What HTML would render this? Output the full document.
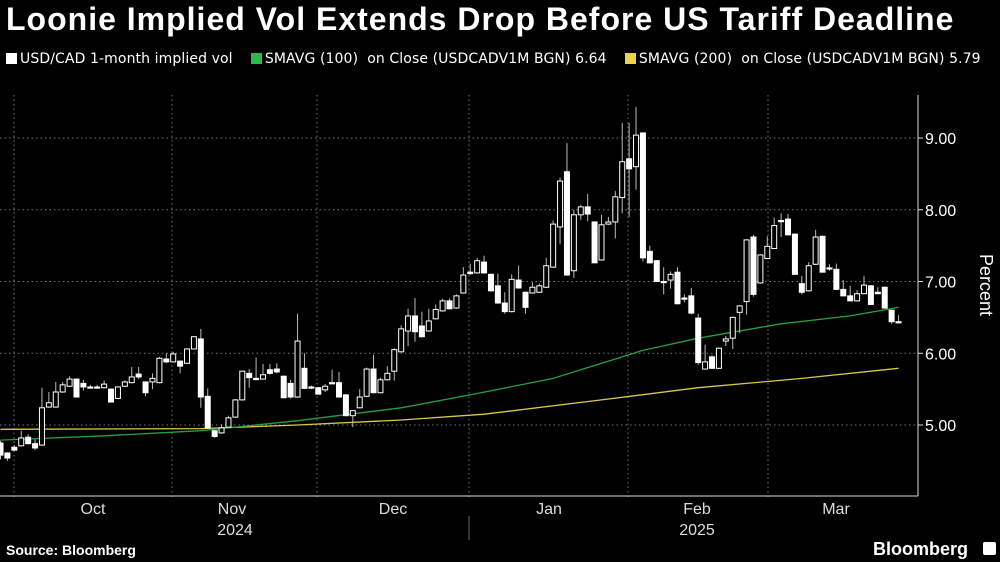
<!DOCTYPE html>
<html><head><meta charset="utf-8">
<style>
html,body{margin:0;padding:0;background:#000;}
body{width:1000px;height:562px;overflow:hidden;position:relative;font-family:"Liberation Sans",sans-serif;color:#fff;}
#title{position:absolute;left:6px;top:1px;font-size:32px;font-weight:bold;letter-spacing:1px;white-space:nowrap;}
#legend{position:absolute;left:6px;top:51px;font-size:14px;white-space:nowrap;color:#fff;font-family:"DejaVu Sans","Liberation Sans",sans-serif;letter-spacing:0.1px;}
.sw{display:inline-block;width:11px;height:11px;margin-right:3px;vertical-align:-1px;}
#source{position:absolute;left:6px;top:542px;font-size:14px;font-weight:bold;}
#logo{position:absolute;left:873px;top:539px;font-size:18px;font-weight:bold;}
#logo-icon{position:absolute;left:983px;top:542px;width:13px;height:13px;background:#fff;border-radius:2px;}
svg{position:absolute;left:0;top:0;}
</style></head><body>
<div id="title">Loonie Implied Vol Extends Drop Before US Tariff Deadline</div>
<div id="legend">
<span><span class="sw" style="background:#fff"></span>USD/CAD 1-month implied vol</span>&nbsp;&nbsp;&nbsp;
<span><span class="sw" style="background:#2db84a"></span>SMAVG (100)&nbsp; on Close (USDCADV1M BGN) 6.64</span>&nbsp;&nbsp;&nbsp;
<span><span class="sw" style="background:#e8d44d"></span>SMAVG (200)&nbsp; on Close (USDCADV1M BGN) 5.79</span>
</div>
<svg id="chart" width="1000" height="562"></svg>
<div id="source">Source: Bloomberg</div>
<div id="logo">Bloomberg</div>
<div id="logo-icon"></div>
<script>
const opens=[4.75,4.61,4.69,4.71,4.83,4.74,4.72,5.25,5.25,5.46,5.54,5.64,5.58,5.53,5.53,5.52,5.50,5.37,5.54,5.59,5.71,5.60,5.60,5.59,5.92,5.88,5.89,5.86,6.06,6.20,5.40,4.92,4.89,4.97,5.11,5.35,5.72,5.65,5.64,5.77,5.78,5.68,5.58,5.39,5.79,5.53,5.52,5.49,5.59,5.59,5.42,5.13,5.24,5.40,5.78,5.45,5.63,5.75,6.02,6.31,6.52,6.38,6.31,6.48,6.59,6.73,6.63,6.84,7.13,7.12,7.27,7.10,6.94,6.70,6.58,7.02,6.85,6.84,6.85,6.92,7.20,7.76,8.53,7.15,7.93,8.04,7.83,7.30,7.80,7.83,8.17,8.71,8.60,9.07,7.42,7.29,7.00,7.02,7.13,6.77,6.80,6.49,5.78,5.95,5.79,6.17,6.21,6.57,6.72,7.62,6.98,7.32,7.46,7.85,7.87,7.66,6.97,6.87,7.24,7.63,7.19,7.17,6.89,6.80,6.73,6.83,6.94,6.85,6.92,6.60,6.44];
const highs=[4.78,4.62,4.72,4.92,4.87,4.80,5.52,5.46,5.60,5.60,5.68,5.65,5.63,5.56,5.56,5.62,5.51,5.54,5.62,5.81,5.81,5.61,5.72,5.95,6.00,6.02,5.90,6.07,6.24,6.34,5.51,4.93,5.01,5.13,5.36,5.76,5.78,5.94,5.85,5.85,5.86,5.69,5.63,6.55,6.00,5.55,5.53,5.57,5.77,5.74,5.43,5.20,5.50,5.80,5.98,5.66,5.82,6.07,6.39,6.62,6.77,6.58,6.62,6.68,6.76,6.76,6.82,7.20,7.25,7.33,7.36,7.11,7.11,6.85,7.10,7.22,6.86,6.99,6.97,7.33,7.85,8.45,8.93,8.00,8.07,8.22,7.84,7.93,7.90,8.26,9.21,9.21,9.43,9.08,7.50,7.30,7.20,7.14,7.20,6.82,6.91,6.55,6.12,5.97,6.08,6.24,6.51,6.67,7.59,7.65,7.38,7.63,7.89,7.95,7.94,7.67,7.08,7.27,7.72,7.64,7.24,7.25,7.02,6.94,6.88,7.08,6.95,6.92,6.93,6.61,6.53];
const lows=[4.52,4.50,4.64,4.70,4.73,4.65,4.71,5.24,5.24,5.45,5.53,5.39,5.48,5.51,5.51,5.51,5.32,5.36,5.53,5.58,5.64,5.40,5.50,5.58,5.86,5.87,5.72,5.85,6.05,5.24,4.95,4.82,4.88,4.96,5.10,5.34,5.52,5.62,5.63,5.70,5.72,5.38,5.37,5.38,5.50,5.50,5.43,5.46,5.58,5.38,5.12,4.97,5.23,5.39,5.44,5.44,5.62,5.62,6.01,6.10,6.16,6.22,6.30,6.47,6.58,6.61,6.62,6.83,7.09,7.11,7.11,6.86,6.69,6.55,6.57,6.90,6.55,6.83,6.84,6.91,7.19,7.52,7.08,7.05,7.86,7.84,7.26,7.29,7.79,7.60,7.95,7.90,8.28,7.28,7.25,7.00,6.82,6.90,6.68,6.71,6.54,5.84,5.77,5.78,5.78,6.10,6.06,6.28,6.54,6.79,6.97,7.31,7.45,7.62,7.64,7.10,6.82,6.86,7.23,7.13,7.15,6.88,6.79,6.73,6.72,6.82,6.68,6.82,6.63,6.41,6.43];
const closes=[4.58,4.54,4.65,4.82,4.74,4.68,5.24,5.31,5.46,5.56,5.64,5.39,5.53,5.53,5.53,5.57,5.32,5.53,5.60,5.67,5.67,5.45,5.65,5.93,5.88,5.99,5.82,6.06,6.23,5.39,4.96,4.84,4.96,5.10,5.35,5.75,5.66,5.65,5.70,5.72,5.74,5.38,5.39,6.17,5.51,5.52,5.43,5.54,5.59,5.39,5.13,5.20,5.39,5.78,5.45,5.63,5.72,6.05,6.34,6.52,6.30,6.23,6.45,6.61,6.73,6.62,6.80,7.09,7.11,7.29,7.12,6.87,6.70,6.58,7.03,6.91,6.64,6.92,6.94,7.22,7.80,8.40,7.09,7.93,8.04,7.94,7.26,7.79,7.83,8.18,8.67,8.57,9.04,7.33,7.26,7.00,7.00,7.10,6.69,6.77,6.56,5.87,5.88,5.79,6.07,6.20,6.50,6.66,7.58,6.82,7.37,7.49,7.78,7.85,7.65,7.10,6.85,7.22,7.62,7.13,7.19,6.89,6.80,6.73,6.83,6.95,6.68,6.83,6.63,6.44,6.44];
const ma100Idx=[0,15,29,43,58,68,80,93,101,113,123,130];
const ma100Val=[4.79,4.85,4.92,5.06,5.24,5.42,5.65,6.04,6.21,6.41,6.52,6.64];
const ma200Idx=[0,29,43,58,70,87,101,116,130];
const ma200Val=[4.94,4.95,5.00,5.07,5.15,5.35,5.52,5.65,5.79];
const yTicks=[5,6,7,8,9];
const monthLabels=["Oct","Nov","Dec","Jan","Feb","Mar"];
const monthLabelX=[93,232,393,549,697,836];
const monthGridX=[14,172,317,469,628,768];

const NS="http://www.w3.org/2000/svg";
const svg=document.getElementById('chart');
const step=6.908, x0=0.5;
function xs(i){return x0+i*step;}
function ys(v){return 425-(v-5)*71.75;}
function mk(tag,attrs){const e=document.createElementNS(NS,tag);for(const k in attrs)e.setAttribute(k,attrs[k]);svg.appendChild(e);return e;}

yTicks.forEach(v=>{
  const g=mk('line',{x1:0,x2:915,y1:ys(v),y2:ys(v),stroke:'#777','stroke-width':1,'stroke-dasharray':'1.5,3'});
  
  
  const t=mk('line',{x1:918,x2:923,y1:ys(v),y2:ys(v),stroke:'#ddd','stroke-width':1});
  
  
  const l=mk('text',{x:925,y:ys(v)+6,fill:'#fff','font-size':16,'font-family':'Liberation Sans, sans-serif'});
  l.textContent=v.toFixed(2);
  
  
});
monthGridX.forEach(x=>{
  const g=mk('line',{x1:x,x2:x,y1:95,y2:500,stroke:'#777','stroke-width':1,'stroke-dasharray':'1.5,3'});
  
  
});
const ax=mk('line',{x1:0,x2:918,y1:496,y2:496,stroke:'#ddd','stroke-width':1});


const ay=mk('line',{x1:918,x2:918,y1:95,y2:496,stroke:'#ddd','stroke-width':1});


const ys1=mk('line',{x1:469,x2:469,y1:516,y2:540,stroke:'#666','stroke-width':1});


monthLabels.forEach((m,i)=>{
  const t=mk('text',{x:monthLabelX[i],y:514,fill:'#ddd','font-size':16,'text-anchor':'middle','font-family':'Liberation Sans, sans-serif'});
  t.textContent=m;
  
  
});
[["2024",235],["2025",697]].forEach(([y,x])=>{
  const t=mk('text',{x:x,y:535,fill:'#ddd','font-size':16,'text-anchor':'middle','font-family':'Liberation Sans, sans-serif'});
  t.textContent=y;
  
  
});
const yt=mk('text',{x:0,y:0,fill:'#fff','font-size':18,'text-anchor':'middle','transform':'translate(980,285) rotate(90)','font-family':'Liberation Sans, sans-serif'});
yt.textContent='Percent';



function line(idx,val,color,name){
  const d=idx.map((i,k)=>(k?'L':'M')+xs(i).toFixed(1)+','+ys(val[k]).toFixed(1)).join(' ');
  const p=mk('path',{d:d,fill:'none',stroke:color,'stroke-width':1.3});
  
  
}
line(ma200Idx,ma200Val,'#d9c94a','sma200-line');
line(ma100Idx,ma100Val,'#23a046','sma100-line');

opens.forEach((o,i)=>{
  const c=closes[i],x=xs(i);
  const w=mk('line',{x1:x,x2:x,y1:ys(highs[i]),y2:ys(lows[i]),stroke:'#bbb','stroke-width':1});
  
  
  const top=ys(Math.max(o,c)),bot=ys(Math.min(o,c));
  const h=Math.max(1.2,bot-top);
  const up=c>o;
  const r=mk('rect',{x:x-2.5,y:top,width:5,height:h,fill:up?'#000':'#fff',stroke:'#fff','stroke-width':1});
  
  
});
</script>
</body></html>
